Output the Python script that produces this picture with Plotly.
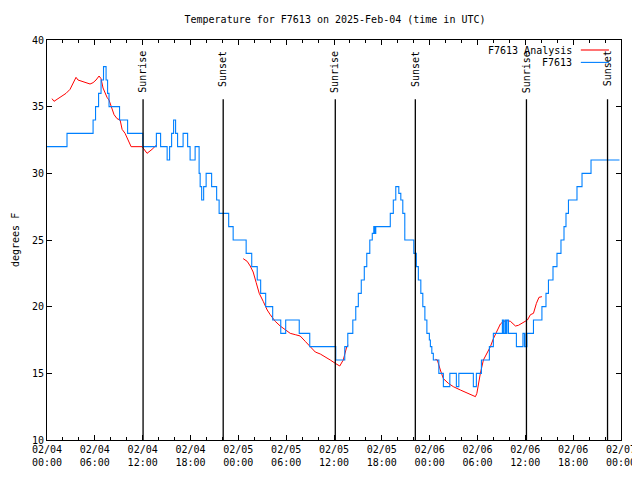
import pandas as pd
import plotly.graph_objects as go

BASE = pd.Timestamp("2025-02-04 00:00")

# Observed temperature (hours after 2025-02-04 00:00 UTC, deg F), stepped
obs_hours = [0, 2.51, 5.78, 6.09, 6.47, 6.78, 7.09, 7.41, 7.60, 7.78, 9.10, 10.11,
             12.02, 13.72, 14.25, 15.07, 15.38, 15.63, 15.88, 16.13, 16.38, 17.07,
             17.64, 17.95, 18.58, 19.08, 19.21, 19.40, 19.65, 19.96, 20.65, 21.28,
             21.59, 22.79, 23.35, 24.98, 25.68, 26.37, 26.80, 27.43, 28.31, 29.32,
             29.94, 31.64, 32.96, 36.22, 37.35, 37.73, 38.36, 38.73, 39.05, 39.42,
             39.80, 40.11, 40.49, 40.80, 40.99, 41.12, 41.24, 43.06, 43.44, 43.75,
             44.13, 44.38, 44.63, 44.88, 46.01, 46.33, 46.58, 46.89, 47.14, 47.40,
             47.65, 47.96, 48.09, 48.27, 48.46, 49.15, 49.72, 50.53, 51.35, 51.66,
             53.48, 53.86, 54.49, 55.49, 55.99, 57.12, 57.25, 57.44, 57.56, 57.69,
             57.88, 58.88, 59.70, 59.89, 60.08, 60.14, 60.20, 61.02, 62.08, 62.59,
             62.90, 63.47, 63.97, 64.47, 64.85, 65.10, 65.41, 66.48, 67.11, 68.24,
             71.81]
obs_temps = [32, 33, 34, 35, 36, 37, 38, 37, 36, 35, 34, 33,
             32, 33, 32, 31, 32, 33, 34, 33, 32, 33,
             32, 31, 32, 30, 29, 28, 29, 30, 29, 28,
             27, 26, 25, 24, 23, 22, 21, 20, 19, 18,
             19, 18, 17, 16, 17, 18, 19, 20, 21, 22,
             23, 24, 25, 25.5, 26, 25.5, 26, 27, 28, 29,
             28.5, 28, 27, 25, 24, 23, 22, 21, 20, 19,
             18, 17.5, 17, 16.5, 16, 15, 14, 15, 14, 15,
             14, 15, 16, 17, 18, 19, 18, 19, 18, 19,
             18, 17, 18, 17, 18, 17, 18, 19, 20, 21,
             22, 23, 24, 25, 26, 27, 28, 29, 30, 31,
             31]

# Analysis series (None = gap)
ana_hours = [0.63, 0.88, 1.38, 1.88, 2.39, 2.89, 3.26, 3.64, 3.89, 4.39, 4.90, 5.40,
             5.78, 6.15, 6.53, 6.78, 7.03, 7.28, 7.53, 7.78, 8.04, 8.41, 8.79, 9.17,
             9.42, 9.79, 10.17, 10.55, 11.93, 12.55, 13.18, 13.69, None,
             24.61, 25.11, 25.49, 25.86, 26.24, 26.62, 27.12, 27.62, 28.00, 28.63,
             29.25, 29.88, 30.51, 31.14, 31.76, 32.39, 33.02, 33.65, 34.28, 34.90,
             35.53, 36.16, 36.72, 37.16, 37.60, 37.79, None,
             48.71, 48.96, 49.34, 49.72, 50.35, 50.97, 51.85, 52.67, 53.30, 53.74,
             53.92, 54.11, 54.36, 54.74, 55.18, 55.62, 55.99, 56.43, 56.87, 57.25,
             57.75, 58.13, 58.76, 59.13, 59.76, 60.26, 60.64, 61.02, 61.39, 61.71,
             62.08]
ana_temps = [35.6, 35.4, 35.6, 35.8, 36.0, 36.3, 36.7, 37.2, 37.0, 36.9, 36.8, 36.7,
             36.8, 37.0, 37.3, 37.1, 36.4, 36.0, 35.7, 35.5, 35.0, 34.4, 34.1, 34.0,
             33.3, 33.0, 32.5, 32.0, 32.0, 31.5, 31.8, 32.1, None,
             23.6, 23.4, 23.05, 22.6, 21.8, 21.0, 20.4, 19.75, 19.4, 18.9,
             18.55, 18.25, 18.0, 17.9, 17.8, 17.4, 17.0, 16.6, 16.45, 16.25,
             16.0, 15.75, 15.55, 16.0, 17.0, 17.1, None,
             16.05, 16.0, 15.25, 14.6, 14.25, 14.0, 13.75, 13.55, 13.4, 13.25,
             13.5, 14.25, 15.0, 16.0, 16.5, 17.0, 17.6, 18.1, 18.7, 18.9,
             18.95, 18.9, 18.55, 18.6, 18.8, 19.0, 19.4, 19.5, 20.25, 20.7,
             20.75]

# Sun events
event_hours = [12.05, 22.10, 36.16, 46.20, 60.14, 70.31]
event_names = ["Sunrise", "Sunset", "Sunrise", "Sunset", "Sunrise", "Sunset"]

x_tick_hours = [0, 6, 12, 18, 24, 30, 36, 42, 48, 54, 60, 66, 72]
x_tick_text = ["02/04<br>00:00", "02/04<br>06:00", "02/04<br>12:00", "02/04<br>18:00",
               "02/05<br>00:00", "02/05<br>06:00", "02/05<br>12:00", "02/05<br>18:00",
               "02/06<br>00:00", "02/06<br>06:00", "02/06<br>12:00", "02/06<br>18:00",
               "02/07<br>00:00"]
y_ticks = [10, 15, 20, 25, 30, 35, 40]


def to_time(h):
    return None if h is None else BASE + pd.Timedelta(hours=h)


FONT = "DejaVu Sans Mono"
RED = "#ff0000"
BLUE = "#0080ff"

# The page body has an 8px margin, so the figure is offset by (8, 8).
ML, MT, MR, MB = 39, 32, 27, 48

fig = go.Figure()
fig.add_trace(go.Scatter(x=[to_time(h) for h in ana_hours], y=ana_temps, mode="lines",
                         line=dict(color=RED, width=1), connectgaps=False,
                         name="F7613 Analysis", showlegend=False))
fig.add_trace(go.Scatter(x=[to_time(h) for h in obs_hours], y=obs_temps, mode="lines",
                         line=dict(color=BLUE, width=1.1, shape="hv"),
                         name="F7613", showlegend=False))

for h, name in zip(event_hours, event_names):
    t = to_time(h)
    fig.add_shape(type="line", xref="x", yref="paper", x0=t, x1=t, y0=0, y1=0.852,
                  line=dict(color="black", width=1.3))
    fig.add_annotation(x=t, xref="x", yref="paper", y=0.978, text=name, showarrow=False,
                       textangle=-90, xanchor="center", yanchor="top",
                       font=dict(family=FONT, size=10, color="black"))

# Legend drawn gnuplot-style (text right, sample to its right)
legend_rows = [("F7613 Analysis", RED, 0.975), ("F7613", BLUE, 0.944)]
for label, col, yy in legend_rows:
    fig.add_annotation(x=0.918, y=yy, xref="paper", yref="paper", text=label,
                       showarrow=False, xanchor="right", yanchor="middle",
                       font=dict(family=FONT, size=10, color="black"))
    fig.add_shape(type="line", xref="paper", yref="paper", x0=0.930, x1=0.979,
                  y0=yy, y1=yy, line=dict(color=col, width=1.1))

# y-axis title as annotation at the far left
fig.add_annotation(x=(15 - 47) / 574, xref="paper", y=0.5, yref="paper", text="degrees F",
                   showarrow=False, textangle=-90, xanchor="center", yanchor="middle",
                   font=dict(family=FONT, size=10, color="black"))

fig.update_layout(
    width=640, height=480, autosize=False,
    margin=dict(l=ML, r=MR, t=MT, b=MB, autoexpand=False),
    paper_bgcolor="white", plot_bgcolor="white",
    font=dict(family=FONT, size=10, color="black"),
    title=dict(text="Temperature for F7613 on 2025-Feb-04 (time in UTC)",
               xref="paper", x=(335 - 47) / 574, xanchor="center",
               yref="container", y=1 - (19 - 8) / 480, yanchor="middle",
               font=dict(family=FONT, size=10, color="black")),
    showlegend=False,
)

fig.update_xaxes(
    type="date", range=[to_time(0), to_time(72)], automargin=False,
    tickvals=[to_time(h) for h in x_tick_hours], ticktext=x_tick_text,
    ticks="inside", ticklen=5, tickcolor="black", showgrid=False,
    showline=True, linecolor="black", linewidth=1, mirror="allticks",
    zeroline=False,
    minor=dict(dtick=2 * 3600 * 1000, tick0=to_time(0), ticks="inside", ticklen=3,
               tickcolor="black", showgrid=False),
    tickfont=dict(family=FONT, size=10, color="black"),
)
fig.update_yaxes(
    range=[10, 40], tickvals=y_ticks, ticks="inside", ticklen=5, tickcolor="black",
    showgrid=False, showline=True, linecolor="black", linewidth=1, mirror="allticks",
    zeroline=False, automargin=False,
    tickfont=dict(family=FONT, size=10, color="black"),
)

fig.write_html("out.html")
